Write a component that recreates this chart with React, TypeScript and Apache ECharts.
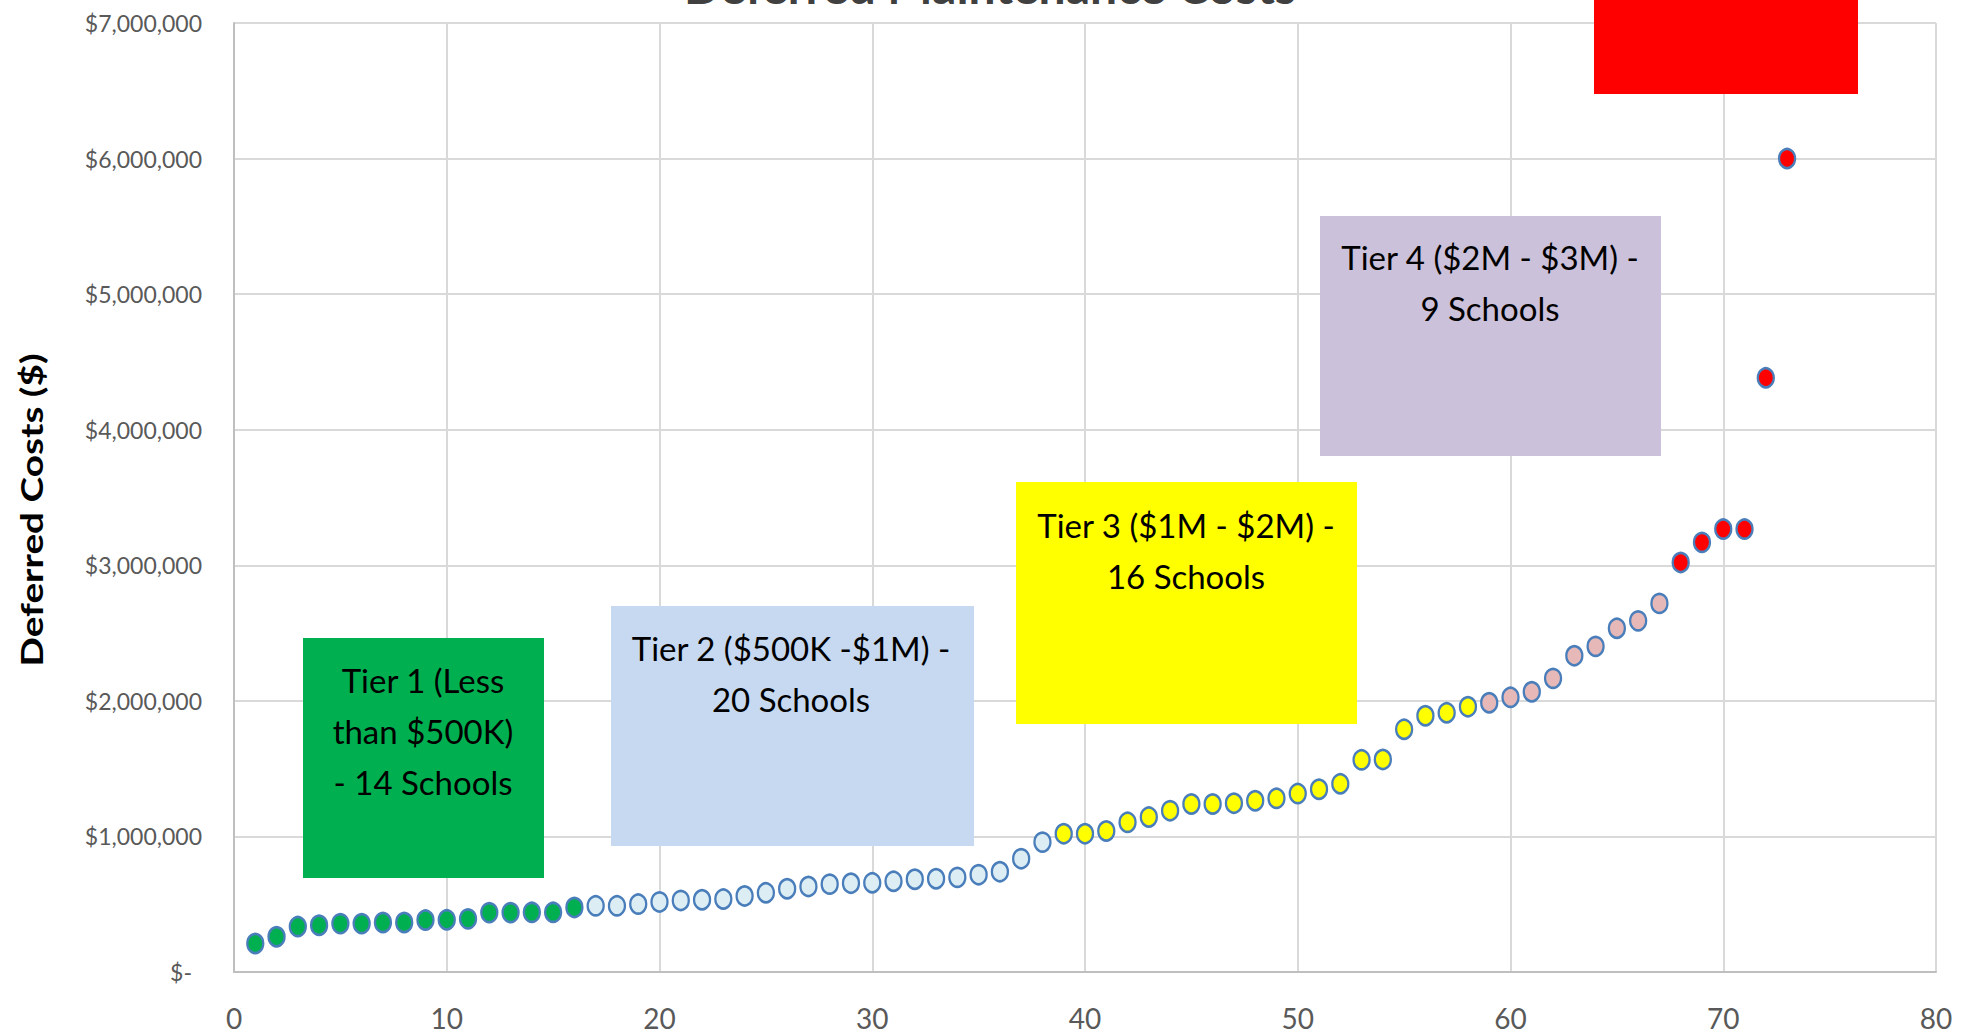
import React, { useEffect, useRef } from 'react';
import * as echarts from 'echarts';

// School rank (x) — one per school, in ascending order of cost
const schoolRank = [
  1, 2, 3, 4, 5, 6, 7, 8, 9, 10, 11, 12, 13, 14, 15, 16, 17, 18, 19, 20,
  21, 22, 23, 24, 25, 26, 27, 28, 29, 30, 31, 32, 33, 34, 35, 36, 37, 38, 39, 40,
  41, 42, 43, 44, 45, 46, 47, 48, 49, 50, 51, 52, 53, 54, 55, 56, 57, 58, 59, 60,
  61, 62, 63, 64, 65, 66, 67, 68, 69, 70, 71, 72, 73,
];

// Deferred costs ($) per tier
const tier1Costs = [
  210000, 260000, 335000, 345000, 357000, 357000, 365000, 365000, 383000, 385000,
  392000, 438000, 438000, 440000, 440000, 476000,
];
const tier2Costs = [
  488000, 488000, 501000, 517000, 528000, 533000, 538000, 561000, 584000, 614000,
  631000, 648000, 655000, 658000, 669000, 684000, 688000, 698000, 718000, 740000,
  836000, 958000,
];
const tier3Costs = [
  1020000, 1020000, 1040000, 1104000, 1143000, 1190000, 1239000, 1239000, 1245000, 1263000,
  1281000, 1316000, 1348000, 1388000, 1565000, 1568000, 1790000, 1890000, 1912000, 1957000,
];
const tier4Costs = [1986000, 2026000, 2067000, 2166000, 2333000, 2402000, 2535000, 2590000, 2719000];
const tier5Costs = [3021000, 3169000, 3267000, 3267000, 4383000, 6000000];

const tierNames = ['Tier 1', 'Tier 2', 'Tier 3', 'Tier 4', 'Tier 5'];
const tierFills = ['#00B050', '#DCEEF4', '#FFFF00', '#E6B9B8', '#FF0000'];
const tierLabels = [
  'Tier 1 (Less\nthan $500K)\n- 14 Schools',
  'Tier 2 ($500K -$1M) -\n20 Schools',
  'Tier 3 ($1M - $2M) -\n16 Schools',
  'Tier 4 ($2M - $3M) -\n9 Schools',
  'Tier 5 (Over $3M) -\n6 Schools',
];
const boxFills = ['#00B050', '#C6D9F1', '#FFFF00', '#CCC1DA', '#FF0000'];

const chartTitle = 'Deferred Maintenance Costs';
const yAxisTitle = 'Deferred Costs ($)';

const FONT = 'Lato, "Open Sans", sans-serif';

// annotation box layout (pixels)
const boxLayout = [
  { x: 303, y: 638, w: 241, h: 240, cx: 423, ty: 654 },
  { x: 611, y: 606, w: 363, h: 240, cx: 791, ty: 622 },
  { x: 1016, y: 482, w: 341, h: 242, cx: 1186, ty: 499 },
  { x: 1320, y: 216, w: 341, h: 240, cx: 1490, ty: 231 },
  { x: 1594, y: -146, w: 264, h: 240, cx: 1730, ty: -91 },
];

export default function App() {
  const ref = useRef<HTMLDivElement>(null);

  useEffect(() => {
    document.body.style.margin = '0';
    if (!ref.current) return;
    const chart = echarts.init(ref.current, undefined, { renderer: 'svg' });

    const tiers = [tier1Costs, tier2Costs, tier3Costs, tier4Costs, tier5Costs];
    let offset = 0;
    const series = tiers.map((vals, i) => {
      const data = vals.map((v, j) => [schoolRank[offset + j], v]);
      offset += vals.length;
      return {
        name: tierNames[i],
        type: 'scatter',
        data,
        symbol: 'circle',
        symbolSize: [16, 19],
        z: 5,
        itemStyle: {
          color: tierFills[i],
          borderColor: '#4A7EBB',
          borderWidth: 2.5,
          opacity: 1,
        },
      };
    });

    const graphic: any[] = [];
    boxLayout.forEach((b, i) => {
      graphic.push({
        type: 'rect',
        z: 1,
        shape: { x: b.x, y: b.y, width: b.w, height: b.h },
        style: { fill: boxFills[i] },
      });
      graphic.push({
        type: 'text',
        z: 3,
        x: b.cx,
        y: b.ty,
        style: {
          text: tierLabels[i],
          fill: '#000000',
          fontSize: 33,
          fontFamily: FONT,
          lineHeight: 51,
          align: 'center',
          textAlign: 'center',
          verticalAlign: 'top',
          textVerticalAlign: 'top',
        },
      });
    });
    graphic.push({
      type: 'text',
      z: 3,
      x: 990,
      y: -15,
      style: {
        text: chartTitle,
        fill: '#404040',
        fontSize: 48,
        fontWeight: 'bold',
        fontFamily: FONT,
        align: 'center',
        textAlign: 'center',
        verticalAlign: 'middle',
        textVerticalAlign: 'middle',
      },
    });
    graphic.push({
      type: 'text',
      z: 3,
      x: 31,
      y: 510,
      rotation: Math.PI / 2,
      scaleX: 1.25,
      style: {
        text: yAxisTitle,
        fill: '#000000',
        fontSize: 31,
        fontWeight: 'bold',
        fontFamily: FONT,
        align: 'center',
        textAlign: 'center',
        verticalAlign: 'middle',
        textVerticalAlign: 'middle',
      },
    });

    chart.setOption({
      animation: false,
      grid: { left: 234, right: 34, top: 23, bottom: 62, containLabel: false },
      xAxis: {
        type: 'value',
        min: 0,
        max: 80,
        interval: 10,
        axisLine: { show: true, onZero: false, lineStyle: { color: '#BFBFBF', width: 2 } },
        axisTick: { show: false },
        axisLabel: { margin: 32, fontSize: 28, color: '#595959', fontFamily: FONT },
        splitLine: { show: true, lineStyle: { color: '#D9D9D9', width: 2 } },
      },
      yAxis: {
        type: 'value',
        min: 0,
        max: 7000000,
        interval: 1000000,
        axisLine: { show: true, lineStyle: { color: '#BFBFBF', width: 2 } },
        axisTick: { show: false },
        axisLabel: {
          margin: 32,
          fontSize: 23,
          color: '#595959',
          fontFamily: FONT,
          formatter: (v: number) =>
            v === 0 ? '{z|$-}' : '$' + v.toLocaleString('en-US'),
          rich: {
            z: { fontSize: 23, color: '#595959', fontFamily: FONT, padding: [0, 10, 0, 0] },
          },
        },
        splitLine: { show: true, lineStyle: { color: '#D9D9D9', width: 2 } },
      },
      series,
      graphic,
    });

    return () => chart.dispose();
  }, []);

  return <div ref={ref} style={{ width: 1970, height: 1034 }} />;
}
